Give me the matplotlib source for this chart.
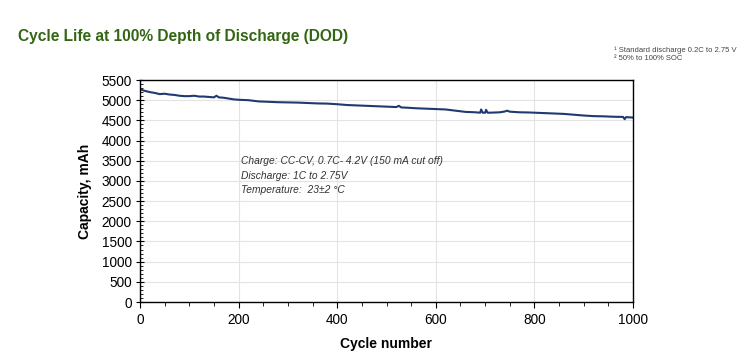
import matplotlib
matplotlib.use("Agg")
import matplotlib.pyplot as plt
from matplotlib.ticker import MultipleLocator

cycles = [0, 5, 10, 20, 30, 40, 50, 60, 70, 80, 90, 100, 110, 120, 130, 140, 150, 155, 160, 170,
          180, 190, 200, 220, 240, 260, 280, 300, 320, 340, 360, 380, 400, 420, 440, 460, 480,
          500, 520, 525, 530, 540, 560, 580, 600, 620, 640, 660, 680, 690, 692, 695, 700, 702,
          705, 710, 730, 740, 745, 750, 770, 790, 800, 820, 840, 860, 880, 900, 920, 940, 960,
          980, 983, 986, 1000]
capacity = [5270, 5250, 5230, 5200, 5180, 5150, 5160, 5140, 5130, 5110, 5100, 5100, 5110, 5090, 5090, 5080,
            5070, 5110, 5070, 5060, 5040, 5020, 5010, 5000, 4970, 4960, 4950, 4945, 4940, 4930, 4920,
            4915, 4900, 4880, 4870, 4860, 4850, 4840, 4830, 4860, 4820, 4815, 4800, 4790, 4780,
            4770, 4740, 4710, 4700, 4690, 4770, 4690, 4690, 4760, 4690, 4690, 4700, 4720, 4740,
            4715, 4700, 4695, 4690, 4680, 4670, 4660, 4640, 4620, 4605, 4600, 4590, 4585, 4530,
            4580, 4570]

xticks = [0, 200, 400, 600, 800, 1000]
yticks = list(range(0, 5501, 500))

fig = plt.figure(figsize=(7.5, 3.57), dpi=100)
ax = fig.add_axes([140/750, 55/357, 493/750, 222/357])

ax.plot(cycles, capacity, color="#1f3a70", lw=1.5)
ax.set_xlim(0, 1000)
ax.set_ylim(0, 5500)
ax.set_xticks(xticks)
ax.set_yticks(yticks)
ax.xaxis.set_minor_locator(MultipleLocator(50))
ax.yaxis.set_minor_locator(MultipleLocator(100))
ax.grid(True, which="major", color="#e3e3e3", lw=0.8)
ax.set_axisbelow(True)
for s in ax.spines.values():
    s.set_color("black")
    s.set_linewidth(1.0)
ax.tick_params(axis="x", which="major", direction="out", length=4, width=0.8, labelsize=9.8, pad=4)
ax.tick_params(axis="x", which="minor", direction="out", length=3, width=0.6)
ax.tick_params(axis="y", which="major", direction="inout", length=6, width=0.8, labelsize=9.8, pad=3)
ax.tick_params(axis="y", which="minor", direction="in", length=2.5, width=0.6)
for lab in ax.get_xticklabels() + ax.get_yticklabels():
    lab.set_family("Liberation Sans")

ax.set_xlabel("Cycle number", fontsize=10, fontweight="bold", family="Liberation Sans", labelpad=7)
ax.set_ylabel("Capacity, mAh", fontsize=10, fontweight="bold", family="Liberation Sans", labelpad=7)

ax.text(205, 3131, "Charge: CC-CV, 0.7C- 4.2V (150 mA cut off)\nDischarge: 1C to 2.75V\nTemperature:  23\u00b12 \u00b0C",
        fontsize=7.4, style="italic", family="Liberation Sans", color="#333333",
        va="center", ha="left", linespacing=1.55)

fig.text(18/750, 1 - 37/357, "Cycle Life at 100% Depth of Discharge (DOD)", fontsize=11.2,
         color="#336614", family="Liberation Sans", fontweight="bold",
         va="center", ha="left")
fig.text(614/750, 1 - 50/357, "\u00b9 Standard discharge 0.2C to 2.75 V", fontsize=5.5,
         color="#444444", family="Liberation Sans", va="center", ha="left")
fig.text(614/750, 1 - 59/357, "\u00b2 50% to 100% SOC", fontsize=5.5,
         color="#444444", family="Liberation Sans", va="center", ha="left")

fig.savefig("out.png", dpi=100)
